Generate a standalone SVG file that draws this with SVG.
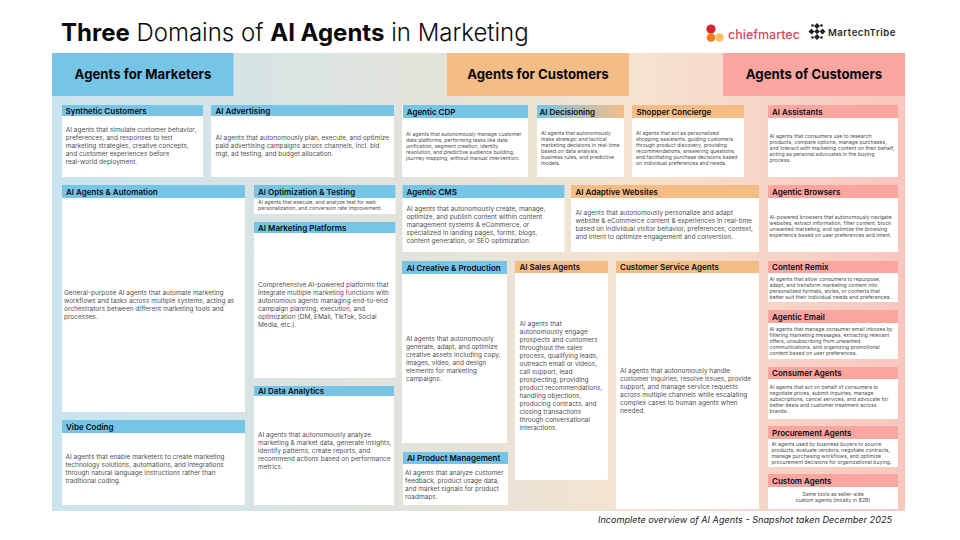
<svg xmlns="http://www.w3.org/2000/svg" width="960" height="540" viewBox="0 0 960 540">
<style>
text{font-family:Inter,"Noto Sans","Liberation Sans",sans-serif}
.t{font-size:8px;font-weight:600;fill:#0b0b14}
.b{fill:#fff}
.m{fill:#76c5e7}.o{fill:#f4bd85}.r{fill:#f9a5a0}
.d{font-weight:700;font-size:13.200px;fill:#08080c;text-anchor:middle}
.x{font-size:6.500px;fill:#505050;transform:translateY(-.7px)}
.c{font-size:5.200px;fill:#505050;transform:translateY(-.5px)}
</style>
<defs>
<linearGradient id="bg" x1="0" x2="1" y1="0" y2="0">
<stop offset="0" stop-color="#c9e4f0"/><stop offset=".45" stop-color="#e3e3d9"/><stop offset=".68" stop-color="#f5e3cf"/><stop offset="1" stop-color="#f8c6be"/>
</linearGradient>
<linearGradient id="dg" x1="0" x2="1" y1="0" y2="0">
<stop offset="0" stop-color="#76c5e7"/><stop offset="1" stop-color="#f4bd85"/>
</linearGradient>
</defs>
<rect width="960" height="540" fill="#fff"/>
<rect x="52" y="53" width="853" height="458" fill="url(#bg)"/>
<text x="61" y="41" font-size="24" fill="#0a0a0a" font-weight="300"><tspan font-weight="700">Three</tspan> Domains of <tspan font-weight="700">AI Agents</tspan> in Marketing</text>
<g id="logos">
<circle cx="711" cy="29" r="4.6" fill="#d5252f"/><circle cx="711" cy="37.500" r="4.300" fill="#f47a20"/><circle cx="719.500" cy="37.500" r="4.200" fill="#fbc062"/>
<text x="728" y="39" font-size="12.500" font-weight="500" fill="#d34a5a">chiefmartec</text>
<g fill="#222"><path d="M817 23l3 3-3 3-3-3zM817 34l3 3-3 3-3-3zM811.500 28.500l3 3-3 3-3-3zM822.500 28.500l3 3-3 3-3-3zM817 28.800l2.700 2.700-2.700 2.700-2.700-2.700z"/><circle cx="812.500" cy="25.500" r="1.300"/><circle cx="821.500" cy="25.500" r="1.300"/><circle cx="812.500" cy="37.500" r="1.300"/><circle cx="821.500" cy="37.500" r="1.300"/></g>
<text x="828" y="36" font-size="9.600" font-weight="600" letter-spacing=".5" fill="#2a2a2a">MartechTribe</text>
</g>
<g id="domain-marketers"><rect class="m" x="52" y="53" width="181.500" height="43"/><text class="d" x="143" y="79">Agents for Marketers</text></g>
<g id="domain-for-customers"><rect class="o" x="447" y="53" width="182" height="43"/><text class="d" x="538" y="79">Agents for Customers</text></g>
<g id="domain-of-customers"><rect class="r" x="723" y="53" width="182" height="43"/><text class="d" x="814" y="79">Agents of Customers</text></g>

<g id="synthetic"><rect class="b" x="62" y="105" width="141" height="72"/><rect class="m" x="62" y="105" width="141" height="11"/><text class="t" x="65.500" y="113.500">Synthetic Customers</text>
<text class="x"><tspan x="65.700" y="133">AI agents that simulate customer behavior,</tspan><tspan x="65.700" y="141">preferences, and responses to test</tspan><tspan x="65.700" y="149">marketing strategies, creative concepts,</tspan><tspan x="65.700" y="157">and customer experiences before</tspan><tspan x="65.700" y="165">real-world deployment.</tspan></text></g>
<g id="advertising"><rect class="b" x="211" y="105" width="183" height="72"/><rect class="m" x="211" y="105" width="183" height="11"/><text class="t" x="215.500" y="113.500">AI Advertising</text>
<text class="x"><tspan x="215.500" y="141">AI agents that autonomously plan, execute, and optimize</tspan><tspan x="215.500" y="149">paid advertising campaigns across channels, incl. bid</tspan><tspan x="215.500" y="157">mgt, ad testing, and budget allocation.</tspan></text></g>
<g id="cdp"><rect class="b" x="402" y="105" width="126" height="72"/><rect class="m" x="403" y="105" width="125" height="13"/><text class="t" x="406.700" y="114.500">Agentic CDP</text>
<text class="c"><tspan x="406" y="136">AI agents that autonomously manage customer</tspan><tspan x="406" y="142">data platforms, performing tasks like data</tspan><tspan x="406" y="148">unification, segment creation, identity</tspan><tspan x="406" y="154">resolution, and predictive audience building,</tspan><tspan x="406" y="160">journey mapping, without manual intervention.</tspan></text></g>
<g id="decisioning"><rect class="b" x="537" y="105" width="87" height="72"/><rect fill="url(#dg)" x="537" y="105" width="87" height="13"/><text class="t" x="539.500" y="114.500">AI Decisioning</text>
<text class="c"><tspan x="541" y="135">AI agents that autonomously</tspan><tspan x="541" y="141">make strategic and tactical</tspan><tspan x="541" y="147">marketing decisions in real-time</tspan><tspan x="541" y="153">based on data analysis,</tspan><tspan x="541" y="159">business rules, and predictive</tspan><tspan x="541" y="165">models.</tspan></text></g>
<g id="concierge"><rect class="b" x="632" y="105" width="112" height="72"/><rect class="o" x="632" y="105" width="112" height="13"/><text class="t" x="636.500" y="114.500">Shopper Concierge</text>
<text class="c"><tspan x="636" y="135">AI agents that act as personalized</tspan><tspan x="636" y="141">shopping assistants, guiding customers</tspan><tspan x="636" y="147">through product discovery, providing</tspan><tspan x="636" y="153">recommendations, answering questions,</tspan><tspan x="636" y="159">and facilitating purchase decisions based</tspan><tspan x="636" y="165">on individual preferences and needs.</tspan></text></g>
<g id="assistants"><rect class="b" x="768" y="105" width="130" height="72"/><rect class="r" x="768" y="105" width="130" height="13"/><text class="t" x="772" y="114.500">AI Assistants</text>
<text class="c"><tspan x="769.500" y="138">AI agents that consumers use to research</tspan><tspan x="769.500" y="144">products, compare options, manage purchases,</tspan><tspan x="769.500" y="150">and interact with marketing content on their behalf,</tspan><tspan x="769.500" y="156">acting as personal advocates in the buying</tspan><tspan x="769.500" y="162">process.</tspan></text></g>

<g id="automation"><rect class="b" x="62" y="185" width="183" height="227"/><rect class="m" x="62" y="185" width="183" height="13"/><text class="t" x="66" y="194.500">AI Agents &amp; Automation</text>
<text class="x"><tspan x="64" y="296">General-purpose AI agents that automate marketing</tspan><tspan x="64" y="304">workflows and tasks across multiple systems, acting as</tspan><tspan x="64" y="312">orchestrators between different marketing tools and</tspan><tspan x="64" y="320">processes.</tspan></text></g>
<g id="optimization"><rect class="b" x="254" y="185" width="141.500" height="29"/><rect class="m" x="254" y="185" width="141.500" height="13"/><text class="t" x="258" y="194.500">AI Optimization &amp; Testing</text>
<text class="c"><tspan x="258" y="204">AI agents that execute, and analyze test for web</tspan><tspan x="258" y="210">personalization, and conversion rate improvement.</tspan></text></g>
<g id="platforms"><rect class="b" x="254" y="222" width="141.500" height="156"/><rect class="m" x="254" y="222" width="141.500" height="11"/><text class="t" x="258" y="230.500">AI Marketing Platforms</text>
<text class="x"><tspan x="258" y="288">Comprehensive AI-powered platforms that</tspan><tspan x="258" y="296">integrate multiple marketing functions with</tspan><tspan x="258" y="304">autonomous agents managing end-to-end</tspan><tspan x="258" y="312">campaign planning, execution, and</tspan><tspan x="258" y="320">optimization (DM, EMail, TikTok, Social</tspan><tspan x="258" y="328">Media, etc.).</tspan></text></g>
<g id="analytics"><rect class="b" x="254" y="386" width="140" height="119"/><rect class="m" x="254" y="386" width="140" height="10"/><text class="t" x="258" y="393.800">AI Data Analytics</text>
<text class="x"><tspan x="258" y="437.500">AI agents that autonomously analyze</tspan><tspan x="258" y="445.500">marketing &amp; market data, generate insights,</tspan><tspan x="258" y="453.500">identify patterns, create reports, and</tspan><tspan x="258" y="461.500">recommend actions based on performance</tspan><tspan x="258" y="469.500">metrics.</tspan></text></g>
<g id="vibe"><rect class="b" x="62" y="420" width="183" height="85"/><rect class="m" x="62" y="420" width="183" height="13"/><text class="t" x="66" y="429.500">Vibe Coding</text>
<text class="x"><tspan x="65.500" y="460">AI agents that enable marketers to create marketing</tspan><tspan x="65.500" y="468">technology solutions, automations, and integrations</tspan><tspan x="65.500" y="476">through natural language instructions rather than</tspan><tspan x="65.500" y="484">traditional coding.</tspan></text></g>
<g id="cms"><rect class="b" x="402.500" y="185" width="162" height="67"/><rect class="m" x="402.500" y="185" width="162" height="13"/><text class="t" x="406.500" y="194.500">Agentic CMS</text>
<text class="x"><tspan x="406.500" y="211.500">AI agents that autonomously create, manage,</tspan><tspan x="406.500" y="219.500">optimize, and publish content within content</tspan><tspan x="406.500" y="227.500">management systems &amp; eCommerce, or</tspan><tspan x="406.500" y="235.500">specialized in landing pages, forms, blogs,</tspan><tspan x="406.500" y="243.500">content generation, or SEO optimization.</tspan></text></g>
<g id="adaptive"><rect class="b" x="571" y="185" width="188" height="67"/><rect class="o" x="571" y="185" width="188" height="13"/><text class="t" x="575.500" y="194.500">AI Adaptive Websites</text>
<text class="x"><tspan x="575.500" y="216">AI agents that autonomously personalize and adapt</tspan><tspan x="575.500" y="224">website &amp; eCommerce content &amp; experiences in real-time</tspan><tspan x="575.500" y="232">based on individual visitor behavior, preferences, context,</tspan><tspan x="575.500" y="240">and intent to optimize engagement and conversion.</tspan></text></g>
<g id="creative"><rect class="b" x="402" y="261" width="105" height="182"/><rect class="m" x="402" y="261" width="105" height="13"/><text class="t" x="406.500" y="270.500">AI Creative &amp; Production</text>
<text class="x"><tspan x="406" y="341.500">AI agents that autonomously</tspan><tspan x="406" y="349.500">generate, adapt, and optimize</tspan><tspan x="406" y="357.500">creative assets including copy,</tspan><tspan x="406" y="365.500">images, video, and design</tspan><tspan x="406" y="373.500">elements for marketing</tspan><tspan x="406" y="381.500">campaigns.</tspan></text></g>
<g id="product"><rect class="b" x="403" y="452" width="105" height="53"/><rect class="m" x="403" y="452" width="105" height="12"/><text class="t" x="407" y="461">AI Product Management</text>
<text class="x"><tspan x="405" y="475.500">AI agents that analyze customer</tspan><tspan x="405" y="483.500">feedback, product usage data,</tspan><tspan x="405" y="491.500">and market signals for product</tspan><tspan x="405" y="499.500">roadmaps.</tspan></text></g>
<g id="sales"><rect class="b" x="515" y="261" width="93" height="219"/><rect class="o" x="515" y="261" width="93" height="12"/><text class="t" x="519.500" y="270">AI Sales Agents</text>
<text class="x"><tspan x="519.500" y="327">AI agents that</tspan><tspan x="519.500" y="335">autonomously engage</tspan><tspan x="519.500" y="343">prospects and customers</tspan><tspan x="519.500" y="351">throughout the sales</tspan><tspan x="519.500" y="359">process, qualifying leads,</tspan><tspan x="519.500" y="367">outreach email or videos,</tspan><tspan x="519.500" y="375">call support, lead</tspan><tspan x="519.500" y="383">prospecting, providing</tspan><tspan x="519.500" y="391">product recommendations,</tspan><tspan x="519.500" y="399">handling objections,</tspan><tspan x="519.500" y="407">producing contracts, and</tspan><tspan x="519.500" y="415">closing transactions</tspan><tspan x="519.500" y="423">through conversational</tspan><tspan x="519.500" y="431">interactions.</tspan></text></g>
<g id="service"><rect class="b" x="616" y="261" width="143" height="248"/><rect class="o" x="616" y="261" width="143" height="12"/><text class="t" x="620" y="270">Customer Service Agents</text>
<text class="x"><tspan x="620" y="374">AI agents that autonomously handle</tspan><tspan x="620" y="382">customer inquiries, resolve issues, provide</tspan><tspan x="620" y="390">support, and manage service requests</tspan><tspan x="620" y="398">across multiple channels while escalating</tspan><tspan x="620" y="406">complex cases to human agents when</tspan><tspan x="620" y="414">needed.</tspan></text></g>
<g id="browsers"><rect class="b" x="768" y="185" width="130" height="67"/><rect class="r" x="768" y="185" width="130" height="13"/><text class="t" x="772" y="194.500">Agentic Browsers</text>
<text class="c"><tspan x="769.500" y="219">AI-powered browsers that autonomously navigate</tspan><tspan x="769.500" y="225">websites, extract information, filter content, block</tspan><tspan x="769.500" y="231">unwanted marketing, and optimize the browsing</tspan><tspan x="769.500" y="237">experience based on user preferences and intent.</tspan></text></g>
<g id="remix"><rect class="b" x="768" y="261" width="130" height="41"/><rect class="r" x="768" y="261" width="130" height="12"/><text class="t" x="772" y="270">Content Remix</text>
<text class="c"><tspan x="769.500" y="281">AI agents that allow consumers to repurpose,</tspan><tspan x="769.500" y="287">adapt, and transform marketing content into</tspan><tspan x="769.500" y="293">personalized formats, styles, or contexts that</tspan><tspan x="769.500" y="299">better suit their individual needs and preferences.</tspan></text></g>
<g id="email"><rect class="b" x="768" y="310" width="130" height="49"/><rect class="r" x="768" y="310" width="130" height="13"/><text class="t" x="772" y="319.500">Agentic Email</text>
<text class="c"><tspan x="769.500" y="331">AI agents that manage consumer email inboxes by</tspan><tspan x="769.500" y="337">filtering marketing messages, extracting relevant</tspan><tspan x="769.500" y="343">offers, unsubscribing from unwanted</tspan><tspan x="769.500" y="349">communications, and organizing promotional</tspan><tspan x="769.500" y="355">content based on user preferences.</tspan></text></g>
<g id="consumer"><rect class="b" x="768" y="367" width="130" height="52"/><rect class="r" x="768" y="367" width="130" height="12"/><text class="t" x="772" y="376">Consumer Agents</text>
<text class="c"><tspan x="769.500" y="389.500">AI agents that act on behalf of consumers to</tspan><tspan x="769.500" y="395.500">negotiate prices, submit inquiries, manage</tspan><tspan x="769.500" y="401.500">subscriptions, cancel services, and advocate for</tspan><tspan x="769.500" y="407.500">better deals and customer treatment across</tspan><tspan x="769.500" y="413.500">brands.</tspan></text></g>
<g id="procurement"><rect class="b" x="768" y="426" width="130" height="41"/><rect class="r" x="768" y="426" width="130" height="13"/><text class="t" x="772" y="435.500">Procurement Agents</text>
<text class="c"><tspan x="771.500" y="446.500">AI agents used by business buyers to source</tspan><tspan x="771.500" y="452.500">products, evaluate vendors, negotiate contracts,</tspan><tspan x="771.500" y="458.500">manage purchasing workflows, and optimize</tspan><tspan x="771.500" y="464.500">procurement decisions for organizational buying.</tspan></text></g>
<g id="custom"><rect class="b" x="768" y="474" width="130" height="35"/><rect class="r" x="768" y="474" width="130" height="13"/><text class="t" x="772" y="483.500">Custom Agents</text>
<text class="c" text-anchor="middle"><tspan x="833" y="496.500">Same tools as seller-side</tspan><tspan x="833" y="502.500">custom agents (mostly in B2B)</tspan></text></g>
<text x="892" y="522.500" font-size="9.150" font-style="italic" fill="#222" text-anchor="end">Incomplete overview of AI Agents - Snapshot taken December 2025</text>
<g id="connectors"/>
</svg>
